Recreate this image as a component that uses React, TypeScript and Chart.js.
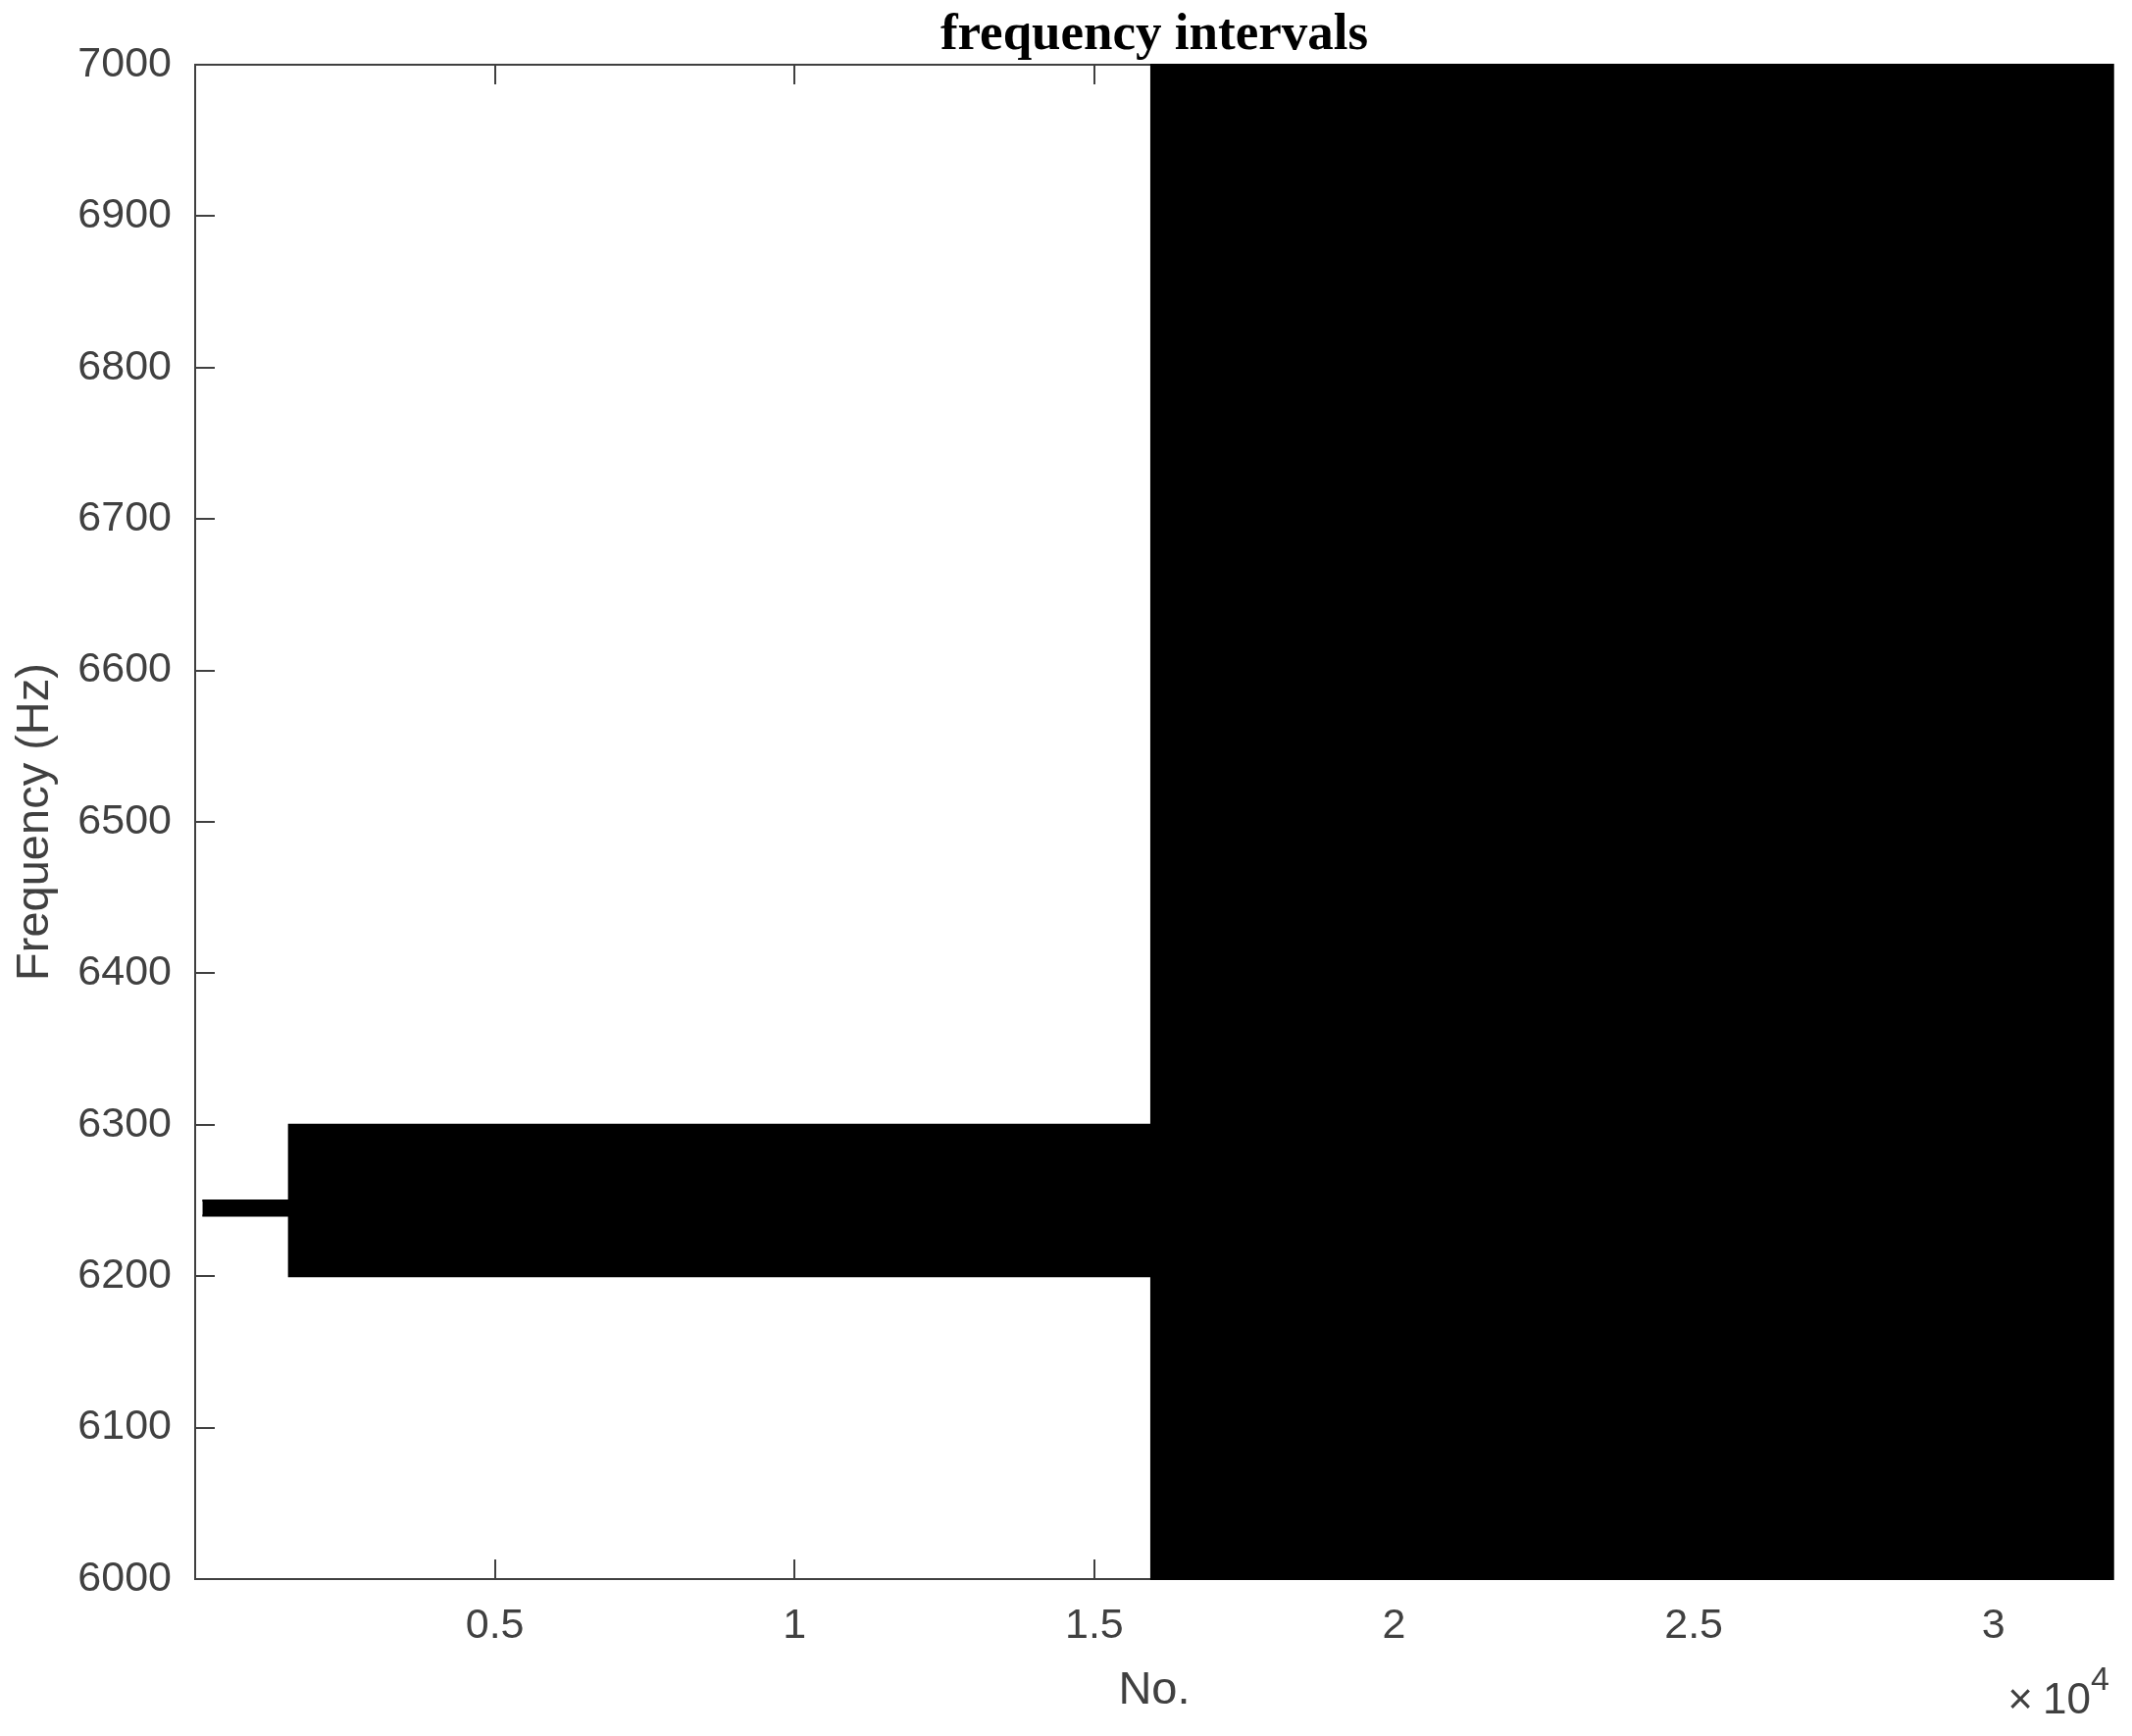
import React, { useEffect, useRef } from "react";
import { Chart, registerables } from "chart.js";

Chart.register(...registerables);

// ---- data ----
const intervalStart = [120, 1565, 15950];
const intervalEnd = [1565, 15950, 32000];
const intervalLow = [6240, 6200, 6000];
const intervalHigh = [6250, 6300, 7000];

const xTicks = [5000, 10000, 15000, 20000, 25000, 30000];
const xTickLabels = ["0.5", "1", "1.5", "2", "2.5", "3"];
const yTicks = [6000, 6100, 6200, 6300, 6400, 6500, 6600, 6700, 6800, 6900, 7000];
const yTickLabels = ["6000", "6100", "6200", "6300", "6400", "6500", "6600", "6700", "6800", "6900", "7000"];

const titleText = "frequency intervals";
const xTitle = "No.";
const yTitle = "Frequency (Hz)";
const xExponentTimes = "\u00d7";
const xExponentBase = "10";
const xExponent = "4";

const AXIS = "#404040";
const SANS = '"Liberation Sans", Arial, Helvetica, sans-serif';

function buildEdge(values: number[]) {
  const pts: { x: number; y: number }[] = [];
  for (let i = 0; i < intervalStart.length; i++) {
    pts.push({ x: intervalStart[i], y: values[i] });
    pts.push({ x: intervalEnd[i], y: values[i] });
  }
  return pts;
}

const axesPlugin = {
  id: "matlabAxes",
  beforeDatasetsDraw(chart: any) {
    const { ctx, chartArea } = chart;
    const { left, right, top, bottom } = chartArea;
    const xs = chart.scales.x;
    const ys = chart.scales.y;
    const tl = 20;
    ctx.save();
    ctx.strokeStyle = AXIS;
    ctx.lineWidth = 2;
    ctx.beginPath();
    ctx.rect(left, top, right - left, bottom - top);
    ctx.stroke();
    ctx.beginPath();
    for (const v of xTicks) {
      const px = Math.round(xs.getPixelForValue(v));
      ctx.moveTo(px, bottom);
      ctx.lineTo(px, bottom - tl);
      ctx.moveTo(px, top);
      ctx.lineTo(px, top + tl);
    }
    for (const v of yTicks) {
      const py = Math.round(ys.getPixelForValue(v));
      ctx.moveTo(left, py);
      ctx.lineTo(left + tl, py);
      ctx.moveTo(right, py);
      ctx.lineTo(right - tl, py);
    }
    ctx.stroke();
    ctx.restore();
  },
  afterDraw(chart: any) {
    const { ctx, chartArea } = chart;
    const { right, bottom } = chartArea;
    ctx.save();
    ctx.fillStyle = AXIS;
    ctx.textBaseline = "alphabetic";
    ctx.font = `44px ${SANS}`;
    ctx.textAlign = "right";
    ctx.fillText(xExponentTimes, right - 82, bottom + 137);
    ctx.fillText(xExponentBase, right - 23, bottom + 137);
    ctx.font = `34px ${SANS}`;
    ctx.textAlign = "left";
    ctx.fillText(xExponent, right - 23, bottom + 113);
    ctx.restore();
  },
};

export default function App() {
  const canvasRef = useRef<HTMLCanvasElement | null>(null);

  useEffect(() => {
    if (!canvasRef.current) return;
    const chart = new Chart(canvasRef.current, {
      type: "line",
      data: {
        datasets: [
          {
            label: "upper",
            data: buildEdge(intervalHigh),
            borderColor: "#000000",
            backgroundColor: "#000000",
            borderWidth: 2,
            pointRadius: 0,
            tension: 0,
            fill: "+1",
            clip: false,
          } as any,
          {
            label: "lower",
            data: buildEdge(intervalLow),
            borderColor: "#000000",
            backgroundColor: "#000000",
            borderWidth: 2,
            pointRadius: 0,
            tension: 0,
            fill: false,
            clip: false,
          } as any,
        ],
      },
      options: {
        responsive: false,
        animation: false,
        devicePixelRatio: 1,
        events: [],
        layout: { padding: { left: 0, right: 19, top: 0, bottom: 0 } },
        plugins: {
          legend: { display: false },
          tooltip: { enabled: false },
          title: {
            display: true,
            fullSize: false,
            text: titleText,
            color: "#000000",
            font: { family: '"Liberation Serif", "Times New Roman", serif', size: 53, weight: "bold", lineHeight: 1 },
            padding: { top: 10, bottom: 3 },
          },
        },
        scales: {
          x: {
            type: "linear",
            min: 0,
            max: 32000,
            afterFit: (s: any) => {
              s.height = 160;
            },
            afterBuildTicks: (s: any) => {
              s.ticks = xTicks.map((v) => ({ value: v }));
            },
            grid: { display: false, drawTicks: false },
            border: { display: false },
            ticks: {
              color: AXIS,
              font: { family: SANS, size: 43 },
              padding: 22,
              maxRotation: 0,
              autoSkip: false,
              callback: (_v: any, i: number) => xTickLabels[i],
            },
            title: {
              display: true,
              text: xTitle,
              color: AXIS,
              font: { family: SANS, size: 47 },
              padding: { top: 0, bottom: 18 },
            },
          },
          y: {
            type: "linear",
            min: 6000,
            max: 7000,
            afterFit: (s: any) => {
              s.width = 199;
            },
            afterBuildTicks: (s: any) => {
              s.ticks = yTicks.map((v) => ({ value: v }));
            },
            grid: { display: false, drawTicks: false },
            border: { display: false },
            ticks: {
              color: AXIS,
              font: { family: SANS, size: 43 },
              padding: 24,
              autoSkip: false,
              callback: (_v: any, i: number) => yTickLabels[i],
            },
            title: {
              display: true,
              text: yTitle,
              color: AXIS,
              font: { family: SANS, size: 47 },
              padding: { top: 8, bottom: 0 },
            },
          },
        },
      } as any,
      plugins: [axesPlugin],
    });
    return () => chart.destroy();
  }, []);

  return (
    <div style={{ position: "absolute", left: 0, top: 0, width: 2174, height: 1770, background: "#ffffff" }}>
      <canvas ref={canvasRef} width={2174} height={1770} style={{ display: "block", width: 2174, height: 1770 }} />
    </div>
  );
}
